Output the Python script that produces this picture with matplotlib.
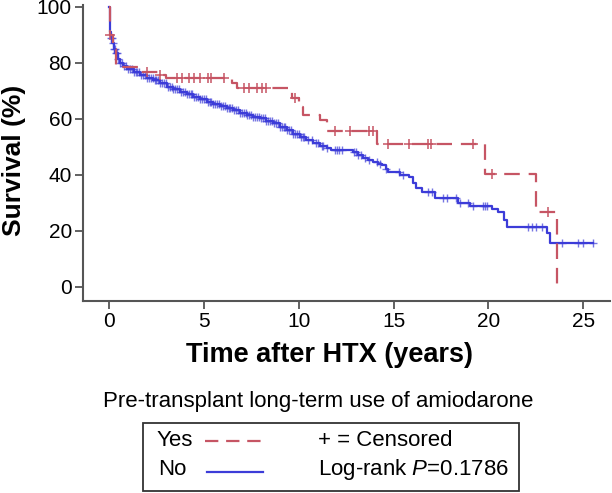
import numpy as np
import matplotlib
matplotlib.use('Agg')
import matplotlib.pyplot as plt
from matplotlib.lines import Line2D
from matplotlib.patches import Rectangle

plt.rcParams['font.family'] = ['Liberation Sans', 'DejaVu Sans']
plt.rcParams['mathtext.fontset'] = 'custom'
plt.rcParams['mathtext.rm'] = 'Liberation Sans'
plt.rcParams['mathtext.it'] = 'Liberation Sans:italic'

# Kaplan-Meier steps (years, survival %)
yes_time = [0, 0.05, 0.2, 0.37, 1.6, 2.7, 3.0, 6.5, 6.75, 9.65, 10.0, 10.2, 11.1, 11.5, 14.1, 19.8, 22.5, 23.6]
yes_surv = [100, 90, 85, 78.6, 76.8, 75.7, 74.6, 72.8, 71.0, 67.4, 64.4, 61.4, 59.6, 55.7, 51.0, 40.4, 26.8, 0]
yes_cens = [0.05, 2.0, 2.7, 3.6, 3.85, 4.2, 4.5, 4.8, 5.2, 5.4, 6.05, 7.1, 7.4, 7.8, 8.05, 8.3,
            9.8, 11.9, 12.7, 13.7, 13.9, 14.7, 15.8, 16.8, 16.95, 19.2, 20.2, 23.15]

no_time = [0, 0.03, 0.06, 0.1, 0.16, 0.25, 0.32, 0.45, 0.58, 0.75, 0.95, 1.3, 1.63, 2.0, 2.32, 2.7,
           3.06, 3.4, 3.74, 4.1, 4.43, 4.8, 5.17, 5.5, 5.85, 6.2, 6.54, 6.9, 7.28, 7.6, 7.96, 8.3,
           8.65, 9.0, 9.39, 9.7, 10.07, 10.4, 10.76, 11.1, 11.5, 11.7, 12.87, 13.1, 13.4, 13.65,
           13.9, 14.2, 14.4, 14.6, 14.7, 15.35, 15.8, 16.0, 16.2, 16.5, 17.2, 18.4, 19.0, 20.2,
           20.5, 20.8, 21.0, 23.1, 23.25, 25.5]
no_surv = [100, 95, 91, 89, 87, 85, 83.5, 81.5, 80, 79, 78, 76.8, 75.7, 74.8, 74, 72.8,
           71.5, 70.6, 69.8, 68.9, 68, 67.1, 66.2, 65.4, 64.6, 63.9, 63.2, 62.3, 61.4, 60.8, 60.3, 59.4,
           58.5, 57.3, 56, 54.8, 53.6, 52.5, 51.4, 50.5, 49.6, 48.9, 48.2, 47.0, 46, 45.3,
           44.6, 44, 43.5, 42.2, 41, 40, 39.3, 37, 35.4, 34, 31.8, 30, 29, 28,
           26.8, 24, 21.5, 19.3, 15.7, 15.7]
no_cens = [0.1, 0.15, 0.2, 0.25, 0.3, 0.35, 0.4, 0.5, 0.6, 0.7, 0.8, 0.9, 1.0, 1.1, 1.2, 1.3, 1.4,
           1.5, 1.6, 1.7, 1.8, 1.9, 2.0, 2.1, 2.2, 2.3, 2.4, 2.5, 2.6, 2.7, 2.8, 2.9, 3.0, 3.1,
           3.2, 3.3, 3.4, 3.5, 3.6, 3.7, 3.8, 3.9, 4.0, 4.1, 4.2, 4.3, 4.4, 4.5, 4.6, 4.7, 4.8,
           4.9, 5.0, 5.1, 5.2, 5.3, 5.4, 5.5, 5.6, 5.7, 5.8, 5.9, 6.0, 6.1, 6.2, 6.3, 6.4, 6.5,
           6.6, 6.7, 6.8, 6.9, 7.0, 7.1, 7.2, 7.3, 7.4, 7.5, 7.6, 7.7, 7.8, 7.9, 8.0, 8.1, 8.2,
           8.3, 8.4, 8.5, 8.6, 8.7, 8.8, 8.9, 9.0, 9.1, 9.2, 9.3, 9.4, 9.5, 9.6, 9.7, 9.8, 9.9,
           10.0, 10.1, 10.2, 10.3, 10.5, 10.7, 10.9, 11.0, 11.2, 11.3, 11.5, 11.9, 12.0, 12.1,
           12.3, 12.9, 13.0, 13.1, 13.3, 13.5, 13.7, 14.1, 14.3, 14.6, 15.3, 15.5, 16.8, 17.0,
           17.6, 17.8, 18.3, 18.5, 18.9, 19.2, 19.7, 19.8, 19.9, 22.1, 22.3, 22.5, 22.8, 23.9,
           24.7, 25.0, 25.5]

x_ticks = [0, 5, 10, 15, 20, 25]
y_ticks = [0, 20, 40, 60, 80, 100]

red = '#c65564'
blue = '#3c3cd8'


def surv_at(times, surv, t):
    idx = np.searchsorted(times, t, side='right') - 1
    return np.asarray(surv)[idx]


fig = plt.figure(figsize=(6.12, 4.93), dpi=100)
ax = fig.add_axes([0.1356, 0.3895, 0.861, 0.6004])

ax.step(no_time, no_surv, where='post', color=blue, lw=1.6)
ax.plot(no_cens, surv_at(no_time, no_surv, no_cens), ls='none', marker='+',
        color=blue, ms=6, mew=1.0, alpha=0.7)
ax.step(yes_time, yes_surv, where='post', color=red, lw=1.6, dashes=(7, 4))
ax.plot(yes_cens, surv_at(yes_time, yes_surv, yes_cens), ls='none', marker='+',
        color=red, ms=7, mew=1.1)

ax.set_xlim(-1.37, 26.4)
ax.set_ylim(-5, 100.7)
ax.set_xticks(x_ticks)
ax.set_yticks(y_ticks)
ax.tick_params(labelsize=15, length=6, width=1.3, color='#555555', pad=2)
for s in ['top', 'right']:
    ax.spines[s].set_visible(False)
for s in ['left', 'bottom']:
    ax.spines[s].set_color('#555555')
    ax.spines[s].set_linewidth(1.5)

fig.text(0.539, 0.28, 'Time after HTX (years)', ha='center', va='center',
         fontsize=19.5, fontweight='bold')
fig.text(0.023, 0.675, 'Survival (%)', ha='center', va='center', rotation=90,
         fontsize=19, fontweight='bold')

# legend block under the plot
fig.text(0.52, 0.1846, 'Pre-transplant long-term use of amiodarone', ha='center',
         va='center', fontsize=16)
fig.patches.append(Rectangle((0.2337, 0.004), 0.6143, 0.138, transform=fig.transFigure,
                             fill=False, edgecolor='#333333', lw=1.3))
fig.text(0.255, 0.1055, 'Yes', ha='left', va='center', fontsize=16)
fig.text(0.258, 0.0467, 'No', ha='left', va='center', fontsize=16)
fig.lines.append(Line2D([0.335, 0.43], [0.1055, 0.1055], transform=fig.transFigure,
                        color=red, lw=1.6, dashes=(6, 3.5)))
fig.lines.append(Line2D([0.338, 0.43], [0.0425, 0.0425], transform=fig.transFigure,
                        color=blue, lw=1.6))
fig.text(0.52, 0.1055, '+ = Censored', ha='left', va='center', fontsize=16)
fig.text(0.52, 0.0467, 'Log-rank $\\mathit{P}$=0.1786', ha='left', va='center', fontsize=16)

fig.savefig('out.png', dpi=100)
